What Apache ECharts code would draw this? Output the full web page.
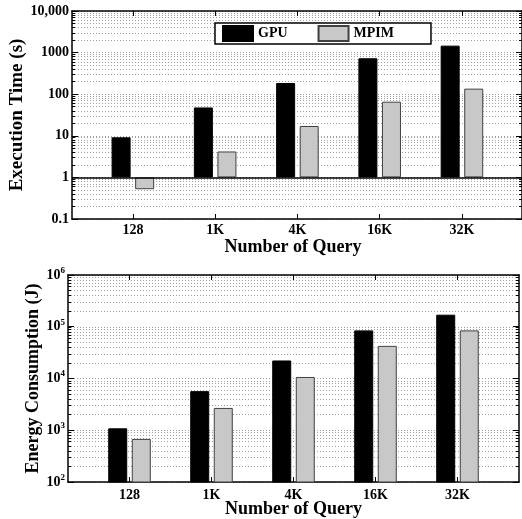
<!DOCTYPE html>
<html>
  <head>
    <meta charset="utf-8">
    <title>Execution time and energy</title>
    <script type="text/javascript" src="https://cdn.jsdelivr.net/npm/echarts@6/dist/echarts.min.js"></script>
    <style>
      html, body { margin: 0; padding: 0; background: #fff; }
      #chart { width: 522px; height: 519px; }
    </style>
  </head>
  <body>
    <div id="chart"></div>
    <script type="text/javascript">
      // data
      var categories = ['128', '1K', '4K', '16K', '32K'];
      var timeGPU = [9.2, 48, 186, 730, 1470];
      var timeMPIM = [0.52, 4.2, 17.2, 66, 136];
      var energyGPU = [1090, 5700, 22300, 85000, 171000];
      var energyMPIM = [680, 2700, 10700, 42700, 85000];
      var timeTickLabels = ['0.1', '1', '10', '100', '1000', '10,000'];
      var energyExponents = ['2', '3', '4', '5', '6'];

      var FONT = 'Liberation Serif';
      var catPos = categories.map(function (c, i) { return i + 1; });

      // log positions of every grid line (1..9 in each decade)
      function gridLogs(lo, hi) {
        var out = [];
        for (var e = lo; e < hi; e++) {
          for (var m = 1; m <= 9; m++) out.push(e + Math.log10(m));
        }
        out.push(hi);
        return out;
      }

      function toPairs(arr) {
        return arr.map(function (v, i) { return [i + 1, v]; });
      }

      function nameFont(size, pad) {
        return { fontFamily: FONT, fontWeight: 'bold', fontSize: size, color: '#000', padding: pad || 0 };
      }
      var labelStyle = { fontFamily: FONT, fontWeight: 'bold', fontSize: 14, color: '#000' };
      var frame = { show: true, onZero: false, lineStyle: { color: '#000', width: 1.5 } };

      function xAxes(grid, min, max, labelMargin, nameGap, namePad) {
        return [{
          type: 'value', gridIndex: grid, position: 'bottom', min: min, max: max,
          axisLine: frame,
          axisTick: { show: true, inside: true, length: 5, customValues: catPos, lineStyle: { color: '#000' } },
          axisLabel: Object.assign({
            customValues: catPos, margin: labelMargin,
            formatter: function (v) { return categories[Math.round(v) - 1]; }
          }, labelStyle),
          splitLine: { show: false },
          name: 'Number of Query', nameLocation: 'middle', nameGap: nameGap,
          nameMoveOverlap: false, nameTextStyle: nameFont(18, namePad)
        }, {
          type: 'value', gridIndex: grid, position: 'top', min: min, max: max,
          axisLine: frame,
          axisTick: { show: true, inside: true, length: 5, customValues: catPos, lineStyle: { color: '#000' } },
          axisLabel: { show: false },
          splitLine: { show: false }
        }];
      }

      function yAxes(grid, lo, hi, label, name, nameGap, nameSize) {
        var logAxis = function (pos, withLabel) {
          var a = {
            type: 'log', logBase: 10, gridIndex: grid, position: pos,
            min: Math.pow(10, lo), max: Math.pow(10, hi),
            axisLine: frame,
            axisTick: { show: true, inside: true, length: 6, lineStyle: { color: '#000' } },
            axisLabel: { show: false },
            splitLine: { show: false }
          };
          if (withLabel) {
            a.axisLabel = Object.assign({ show: true, margin: 3, formatter: label }, labelStyle);
            a.name = name;
            a.nameLocation = 'middle';
            a.nameGap = nameGap;
            a.nameMoveOverlap = false;
            a.nameTextStyle = nameFont(nameSize);
          }
          return a;
        };
        var helper = function (pos, withGrid) {
          return {
            type: 'value', gridIndex: grid, position: pos, min: lo, max: hi,
            axisLine: { show: false, onZero: false },
            axisTick: { show: true, inside: true, length: 3, customValues: gridLogs(lo, hi), lineStyle: { color: '#000' } },
            axisLabel: { show: false },
            splitLine: { show: withGrid, lineStyle: { color: '#a0a0a0', width: 1, type: [1, 2] } }
          };
        };
        return [logAxis('left', true), logAxis('right', false), helper('left', true), helper('right', false)];
      }

      var chart = echarts.init(document.getElementById('chart'), null, { renderer: 'canvas' });

      var barCommon = { type: 'bar', barWidth: 19, barGap: '24%', clip: true };
      var gpuStyle = { color: '#000', borderColor: '#000', borderWidth: 1 };
      var mpimStyle = { color: '#c8c8c8', borderColor: '#404040', borderWidth: 1 };

      var option = {
        backgroundColor: '#fff',
        animation: false,
        legend: {
          data: ['GPU', 'MPIM'],
          left: 215, top: 23,
          itemWidth: 30, itemHeight: 15, itemGap: 30,
          padding: [2, 37, 2, 7],
          borderColor: '#000', borderWidth: 1.5, backgroundColor: '#fff',
          icon: 'rect',
          textStyle: { fontFamily: FONT, fontWeight: 'bold', fontSize: 14, color: '#000' }
        },
        grid: [
          { left: 72, top: 11, right: 0, height: 208 },
          { left: 68, top: 275, right: 3, height: 208 }
        ],
        xAxis: xAxes(0, 0.26, 5.73, 4, 19, [0, 8, 0, 0]).concat(xAxes(1, 0.25, 5.75, 6, 18)),
        yAxis: yAxes(0, -1, 4, function (v) {
          return timeTickLabels[Math.round(Math.log10(v)) + 1];
        }, 'Execution Time (s)', 45, 19).concat(yAxes(1, 2, 6, function (v) {
          return '10{s|' + energyExponents[Math.round(Math.log10(v)) - 2] + '}';
        }, 'Energy Consumption (J)', 26, 18)),
        series: [
          Object.assign({
            name: 'GPU', xAxisIndex: 0, yAxisIndex: 0, data: toPairs(timeGPU), itemStyle: gpuStyle,
            markLine: {
              silent: true, symbol: 'none', z: 6,
              label: { show: false },
              lineStyle: { color: '#000', type: 'solid', width: 1.5 },
              data: [{ yAxis: 1 }]
            }
          }, barCommon),
          Object.assign({ name: 'MPIM', xAxisIndex: 0, yAxisIndex: 0, data: toPairs(timeMPIM), itemStyle: mpimStyle }, barCommon),
          Object.assign({ name: 'GPU', xAxisIndex: 2, yAxisIndex: 4, data: toPairs(energyGPU), itemStyle: gpuStyle }, barCommon),
          Object.assign({ name: 'MPIM', xAxisIndex: 2, yAxisIndex: 4, data: toPairs(energyMPIM), itemStyle: mpimStyle }, barCommon)
        ]
      };

      // superscript style for the energy axis labels
      option.yAxis[4].axisLabel.rich = {
        s: { fontFamily: FONT, fontWeight: 'bold', fontSize: 9, color: '#000', padding: [0, 0, 9, 0] }
      };

      chart.setOption(option);
    </script>
  </body>
</html>
